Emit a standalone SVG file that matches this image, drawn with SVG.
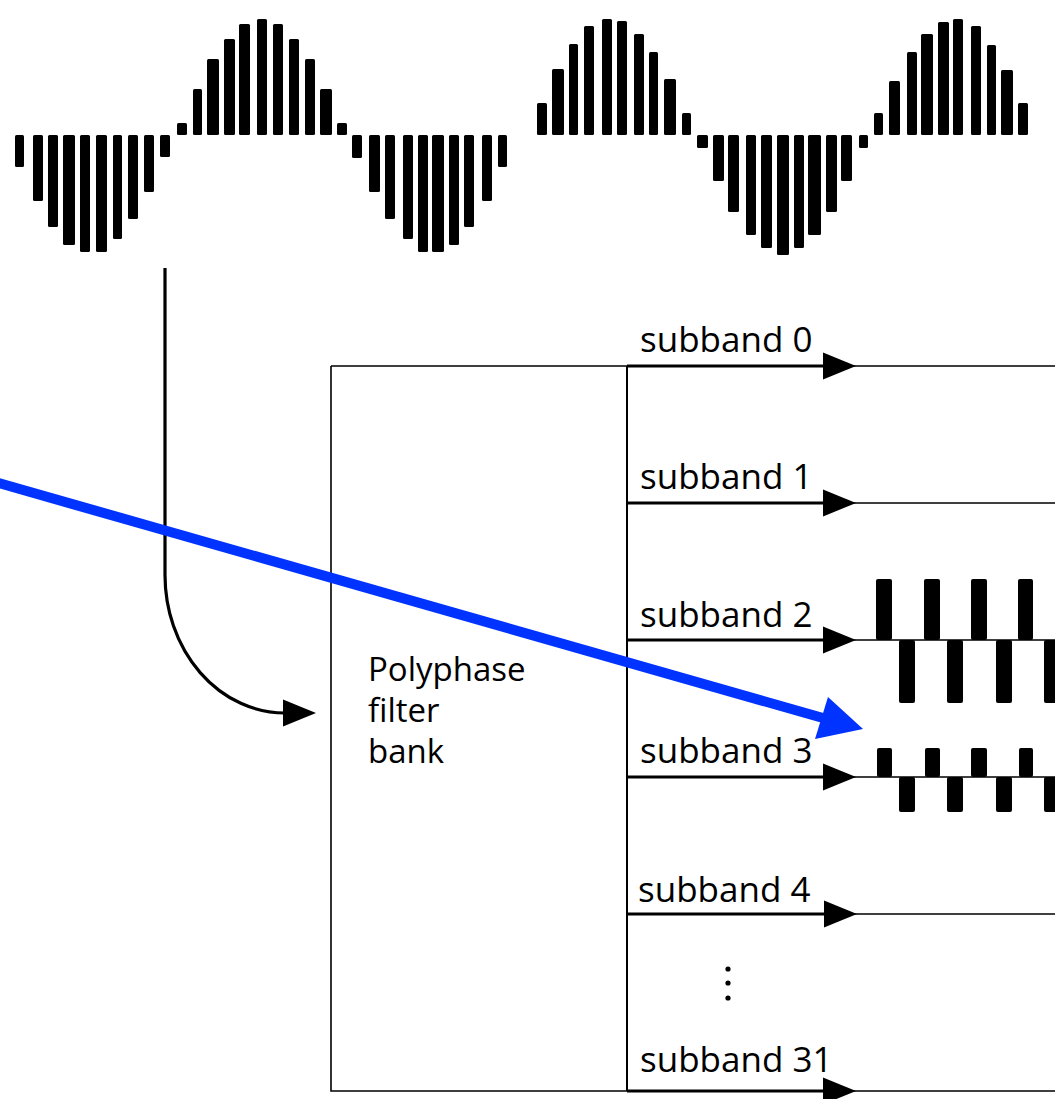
<svg xmlns="http://www.w3.org/2000/svg" xmlns:xlink="http://www.w3.org/1999/xlink" width="1055" height="1099" viewBox="0 0 1055 1099">
  <style>
    .bar { fill: #000; }
    .lbl { font-family: "Open Sans", "Liberation Sans", sans-serif; font-size: 35px; fill: #000; }
    .box-lbl { font-family: "Open Sans", "Liberation Sans", sans-serif; font-size: 33px; fill: #000; }
    .edge { fill: none; stroke: #000; stroke-width: 1.6; }
    .thick { fill: none; stroke: #000; stroke-width: 3.2; }
    .thin { fill: none; stroke: #000; stroke-width: 1.6; }
    .head { fill: #000; }
  </style>
  <defs>
    <path id="ah" d="M0,-13.5 L33,0 L0,13.5 Z"/>
  </defs>
  <rect width="1055" height="1099" fill="#fff"/>

  <!-- sampled input waveform -->
  <g id="input-signal">
    <!-- first trough -->
    <rect class="bar" x="15" y="135" width="9" height="32" rx="1.5"/>
    <rect class="bar" x="33" y="135" width="10" height="66" rx="1.5"/>
    <rect class="bar" x="48" y="135" width="10" height="92" rx="1.5"/>
    <rect class="bar" x="63" y="135" width="12" height="110" rx="1.5"/>
    <rect class="bar" x="80" y="135" width="10" height="117" rx="1.5"/>
    <rect class="bar" x="96" y="135" width="11" height="117" rx="1.5"/>
    <rect class="bar" x="113" y="135" width="9" height="104" rx="1.5"/>
    <rect class="bar" x="128" y="135" width="10" height="84" rx="1.5"/>
    <rect class="bar" x="144" y="135" width="10" height="57" rx="1.5"/>
    <rect class="bar" x="160" y="135" width="10" height="22" rx="1.5"/>
    <!-- first crest -->
    <rect class="bar" x="177" y="123" width="10" height="12" rx="1.5"/>
    <rect class="bar" x="193" y="89" width="9" height="46" rx="1.5"/>
    <rect class="bar" x="207" y="59" width="12" height="76" rx="1.5"/>
    <rect class="bar" x="224" y="39" width="11" height="96" rx="1.5"/>
    <rect class="bar" x="239" y="24" width="11" height="111" rx="1.5"/>
    <rect class="bar" x="257" y="19" width="10" height="116" rx="1.5"/>
    <rect class="bar" x="273" y="24" width="10" height="111" rx="1.5"/>
    <rect class="bar" x="289" y="39" width="10" height="96" rx="1.5"/>
    <rect class="bar" x="305" y="59" width="10" height="76" rx="1.5"/>
    <rect class="bar" x="320" y="89" width="12" height="46" rx="1.5"/>
    <rect class="bar" x="337" y="123" width="10" height="12" rx="1.5"/>
    <!-- second trough -->
    <rect class="bar" x="352" y="135" width="10" height="23" rx="1.5"/>
    <rect class="bar" x="369" y="135" width="11" height="57" rx="1.5"/>
    <rect class="bar" x="385" y="135" width="10" height="84" rx="1.5"/>
    <rect class="bar" x="403" y="135" width="10" height="104" rx="1.5"/>
    <rect class="bar" x="418" y="135" width="10" height="117" rx="1.5"/>
    <rect class="bar" x="432" y="135" width="12" height="117" rx="1.5"/>
    <rect class="bar" x="449" y="135" width="10" height="110" rx="1.5"/>
    <rect class="bar" x="464" y="135" width="10" height="92" rx="1.5"/>
    <rect class="bar" x="482" y="135" width="10" height="66" rx="1.5"/>
    <rect class="bar" x="498" y="135" width="9" height="32" rx="1.5"/>
    <!-- second crest -->
    <rect class="bar" x="537" y="103" width="10" height="32" rx="1.5"/>
    <rect class="bar" x="552" y="69" width="12" height="66" rx="1.5"/>
    <rect class="bar" x="569" y="44" width="9" height="91" rx="1.5"/>
    <rect class="bar" x="584" y="26" width="10" height="109" rx="1.5"/>
    <rect class="bar" x="602" y="19" width="10" height="116" rx="1.5"/>
    <rect class="bar" x="617" y="21" width="10" height="114" rx="1.5"/>
    <rect class="bar" x="634" y="34" width="10" height="101" rx="1.5"/>
    <rect class="bar" x="649" y="52" width="9" height="83" rx="1.5"/>
    <rect class="bar" x="664" y="79" width="12" height="56" rx="1.5"/>
    <rect class="bar" x="682" y="113" width="9" height="22" rx="1.5"/>
    <!-- third trough -->
    <rect class="bar" x="697" y="135" width="11" height="13" rx="1.5"/>
    <rect class="bar" x="713" y="135" width="11" height="46" rx="1.5"/>
    <rect class="bar" x="728" y="135" width="11" height="77" rx="1.5"/>
    <rect class="bar" x="746" y="135" width="10" height="100" rx="1.5"/>
    <rect class="bar" x="761" y="135" width="11" height="113" rx="1.5"/>
    <rect class="bar" x="777" y="135" width="12" height="120" rx="1.5"/>
    <rect class="bar" x="794" y="135" width="10" height="113" rx="1.5"/>
    <rect class="bar" x="808" y="135" width="13" height="100" rx="1.5"/>
    <rect class="bar" x="826" y="135" width="11" height="77" rx="1.5"/>
    <rect class="bar" x="841" y="135" width="11" height="46" rx="1.5"/>
    <rect class="bar" x="859" y="135" width="9" height="13" rx="1.5"/>
    <!-- third crest -->
    <rect class="bar" x="874" y="113" width="9" height="22" rx="1.5"/>
    <rect class="bar" x="889" y="81" width="11" height="54" rx="1.5"/>
    <rect class="bar" x="907" y="52" width="10" height="83" rx="1.5"/>
    <rect class="bar" x="921" y="34" width="12" height="101" rx="1.5"/>
    <rect class="bar" x="938" y="22" width="11" height="113" rx="1.5"/>
    <rect class="bar" x="953" y="19" width="10" height="116" rx="1.5"/>
    <rect class="bar" x="971" y="26" width="10" height="109" rx="1.5"/>
    <rect class="bar" x="987" y="45" width="9" height="90" rx="1.5"/>
    <rect class="bar" x="1001" y="70" width="12" height="65" rx="1.5"/>
    <rect class="bar" x="1018" y="103" width="10" height="32" rx="1.5"/>
  </g>

  <!-- filter bank block -->
  <g id="filter-bank">
    <path class="edge" d="M331,366 H627 M331,366 V1091 H627"/>
    <path class="thin" d="M627,366 V1091" style="stroke-width:2"/>
    <text class="box-lbl" x="368" y="681">Polyphase</text>
    <text class="box-lbl" x="368" y="722">filter</text>
    <text class="box-lbl" x="368" y="763">bank</text>
  </g>

  <!-- subband output signals -->
  <g id="subband-2-signal">
    <rect class="bar" x="876" y="579" width="16" height="61" rx="2"/>
    <rect class="bar" x="924" y="579" width="16" height="61" rx="2"/>
    <rect class="bar" x="971" y="579" width="16" height="61" rx="2"/>
    <rect class="bar" x="1018" y="579" width="15" height="61" rx="2"/>
    <rect class="bar" x="899" y="640" width="16" height="63" rx="2"/>
    <rect class="bar" x="947" y="640" width="16" height="63" rx="2"/>
    <rect class="bar" x="996" y="640" width="16" height="63" rx="2"/>
    <rect class="bar" x="1044" y="640" width="16" height="63" rx="2"/>
  </g>
  <g id="subband-3-signal">
    <rect class="bar" x="877" y="748" width="15" height="29" rx="2"/>
    <rect class="bar" x="925" y="748" width="15" height="29" rx="2"/>
    <rect class="bar" x="971" y="748" width="16" height="29" rx="2"/>
    <rect class="bar" x="1019" y="748" width="14" height="29" rx="2"/>
    <rect class="bar" x="899" y="777" width="16" height="35" rx="2"/>
    <rect class="bar" x="947" y="777" width="16" height="35" rx="2"/>
    <rect class="bar" x="996" y="777" width="16" height="35" rx="2"/>
    <rect class="bar" x="1044" y="777" width="16" height="35" rx="2"/>
  </g>

  <!-- subband labels -->
  <g id="subband-labels">
    <text class="lbl" x="640" y="352">subband 0</text>
    <text class="lbl" x="640" y="489">subband 1</text>
    <text class="lbl" x="640" y="627">subband 2</text>
    <text class="lbl" x="640" y="763">subband 3</text>
    <text class="lbl" x="638" y="902">subband 4</text>
    <text class="lbl" x="640" y="1072">subband 31</text>
    <circle cx="728" cy="969" r="2.6"/>
    <circle cx="728" cy="983" r="2.6"/>
    <circle cx="728" cy="998" r="2.6"/>
  </g>

  <!-- connectors -->
  <g id="connectors">
    <!-- input into the filter bank -->
    <path class="thick" d="M165,268 V575 A120,138 0 0 0 285,713"/>
    <use xlink:href="#ah" x="283" y="713" class="head"/>

    <!-- subband outputs -->
    <path class="thick" d="M627,366 H826 M627,503 H826 M627,640 H826 M627,777 H826 M627,914 H826 M627,1091 H826"/>
    <path class="thin" d="M850,366 H1055 M850,503 H1055 M850,640 H1055 M850,777 H1055 M850,914 H1055 M850,1091 H1055"/>
    <use xlink:href="#ah" x="823" y="366"/>
    <use xlink:href="#ah" x="823" y="503"/>
    <use xlink:href="#ah" x="823" y="640"/>
    <use xlink:href="#ah" x="823" y="777"/>
    <use xlink:href="#ah" x="824" y="914"/>
    <use xlink:href="#ah" x="823" y="1091"/>

    <!-- highlight pointer -->
    <line x1="-5" y1="482" x2="830" y2="720" stroke="#0033ff" stroke-width="10"/>
    <polygon points="863,729 828,697 815,739" fill="#0033ff"/>
  </g>
</svg>
